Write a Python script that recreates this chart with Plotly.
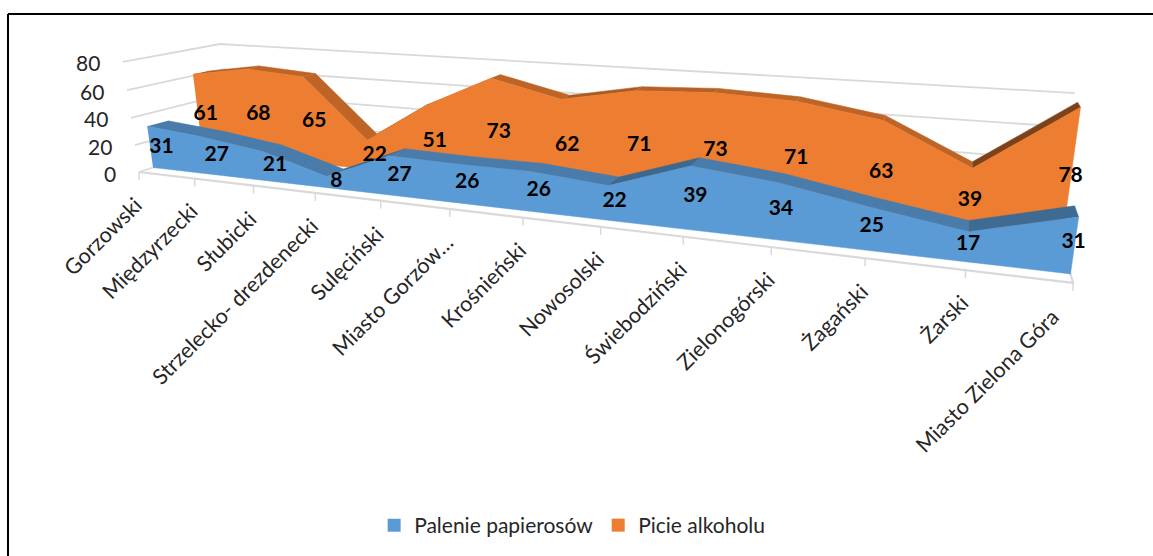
import plotly.graph_objects as go

categories = ["Gorzowski", "Międzyrzecki", "Słubicki", "Strzelecko- drezdenecki", "Sulęciński",
              "Miasto Gorzów…", "Krośnieński", "Nowosolski", "Świebodziński", "Zielonogórski",
              "Żagański", "Żarski", "Miasto Zielona Góra"]
palenie = [31, 27, 21, 8, 27, 26, 26, 22, 39, 34, 25, 17, 31]
picie = [61, 68, 65, 22, 51, 73, 62, 71, 73, 71, 63, 39, 78]
value_ticks = [0, 20, 40, 60, 80]

BLUE = (0x5B, 0x9B, 0xD5)
ORANGE = (0xED, 0x7D, 0x31)
GRID = "#D9D9D9"
FONT = "Lato"


def project(t, v, d):
    """Perspective camera of the 3-D box: category t, value v, depth d -> canvas position."""
    w = 1 - 0.02515 * t - 0.000406 * v + 0.1257 * d
    return ((139 + 50.85 * t - 0.250 * v + 121.5 * d) / w,
            (172 + 2.13 * t - 1.401 * v - 11.8 * d) / w)


def path(points):
    xy = [project(*p) for p in points]
    return [p[0] for p in xy], [p[1] for p in xy]


def rgb(c, f=1.0):
    return "rgb(%d,%d,%d)" % tuple(round(x * f) for x in c)


def shade(rise):
    return 0.8 if rise <= 0 else max(0.53, 0.78 - rise * 0.0064)


fig = go.Figure()
last = len(categories) - 1


def line(points, width=1.8):
    x, y = path(points)
    fig.add_trace(go.Scatter(x=x, y=y, mode="lines", line=dict(color=GRID, width=width),
                             hoverinfo="skip", showlegend=False))


for v in value_ticks:
    line([(0, v, 0), (0, v, 1), (last, v, 1)])
line([(0, 0, 0), (last, 0, 0), (last, 0, 1)], 2.2)

for t in range(len(categories)):
    x, y = project(t, 0, 0)
    fig.add_trace(go.Scatter(x=[x, x], y=[y, y + 8], mode="lines", line=dict(color=GRID, width=1.5),
                             hoverinfo="skip", showlegend=False))


def area(values, color, d_front, d_back, name):
    for i in range(last):
        x, y = path([(i, values[i], d_front), (i + 1, values[i + 1], d_front),
                     (i + 1, values[i + 1], d_back), (i, values[i], d_back)])
        c = rgb(color, shade(values[i + 1] - values[i]))
        fig.add_trace(go.Scatter(x=x, y=y, mode="lines", fill="toself", fillcolor=c,
                                 line=dict(color=c, width=0.5), hoverinfo="skip", showlegend=False))
    top = [(i, values[i], d_front) for i in range(last + 1)]
    bottom = [(i, 0, d_front) for i in range(last, -1, -1)]
    x, y = path(top + bottom)
    fig.add_trace(go.Scatter(x=x, y=y, mode="lines", fill="toself", fillcolor=rgb(color),
                             line=dict(color=rgb(color), width=0.5), hoverinfo="skip",
                             name=name, showlegend=False))


area(picie, ORANGE, 0.663, 0.818, "Picie alkoholu")
area(palenie, BLUE, 0.137, 0.345, "Palenie papierosów")


def value_labels(values, d):
    x, y = path([(i, values[i] / 2, d) for i in range(last + 1)])
    fig.add_trace(go.Scatter(x=[p + 1 for p in x], y=[p + 3.5 for p in y], mode="text",
                             text=[str(v) for v in values], textposition="middle center",
                             textfont=dict(family=FONT, size=21, color="black", weight="bold"),
                             hoverinfo="skip", showlegend=False))


value_labels(picie, 0.74)
value_labels(palenie, 0.24)

for name, color in (("Palenie papierosów", BLUE), ("Picie alkoholu", ORANGE)):
    fig.add_trace(go.Scatter(x=[None], y=[None], mode="markers", name=name,
                             marker=dict(symbol="square", size=13, color=rgb(color))))

annotations = []
for v in value_ticks:
    x, y = project(0, v, 0)
    annotations.append(dict(x=x - 21, y=y + 1, text=str(v), showarrow=False, xanchor="right",
                            yanchor="middle", font=dict(family=FONT, size=21, color="#262626")))
for t, name in enumerate(categories):
    x, y = project(t, 0, 0)
    annotations.append(dict(x=x + (11 if t < last else -7), y=y + (17 if t < last else 18), text=name,
                            showarrow=False, textangle=-45, xanchor="right", yanchor="top",
                            font=dict(family=FONT, size=21.5, color="#262626")))

fig.update_layout(
    width=1153, height=556, margin=dict(l=0, r=0, t=0, b=0),
    paper_bgcolor="white", plot_bgcolor="white",
    xaxis=dict(range=[0, 1153], visible=False, fixedrange=True),
    yaxis=dict(range=[556, 0], visible=False, fixedrange=True),
    annotations=annotations,
    legend=dict(orientation="h", x=0.3245, xanchor="left", y=0.018, yanchor="bottom",
                font=dict(family=FONT, size=21, color="#262626"), bgcolor="rgba(0,0,0,0)"),
    shapes=[
        dict(type="line", x0=8, y0=14, x1=1153, y1=14, line=dict(color="black", width=2)),
        dict(type="line", x0=8, y0=14, x1=8, y1=556, line=dict(color="black", width=2)),
    ],
)
fig.write_html("out.html", config={"displayModeBar": False},
               post_script="document.body.style.margin='0';document.documentElement.style.overflow='hidden';")
